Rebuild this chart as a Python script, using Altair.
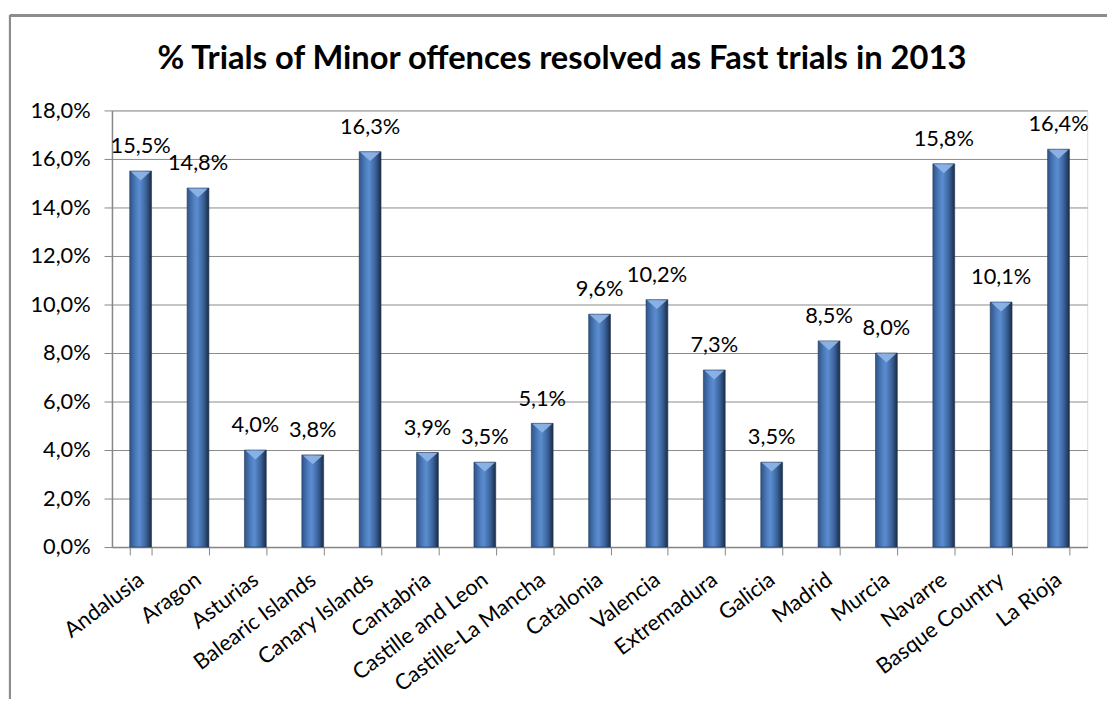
import altair as alt
import pandas as pd

regions = ["Andalusia", "Aragon", "Asturias", "Balearic Islands", "Canary Islands",
           "Cantabria", "Castille and Leon", "Castille-La Mancha", "Catalonia", "Valencia",
           "Extremadura", "Galicia", "Madrid", "Murcia", "Navarre", "Basque Country", "La Rioja"]
values = [15.5, 14.8, 4.0, 3.8, 16.3, 3.9, 3.5, 5.1, 9.6, 10.2, 7.3, 3.5, 8.5, 8.0, 15.8, 10.1, 16.4]
y_ticks = [0, 2, 4, 6, 8, 10, 12, 14, 16, 18]

df = pd.DataFrame({"region": regions, "value": values})

FONT = "Lato"
W, H = 985, 441

y_scale = alt.Scale(domain=[0, 18], nice=False)

grad = alt.Gradient(
    gradient="linear", x1=0, x2=1, y1=0, y2=0,
    stops=[alt.GradientStop(offset=0.0, color="#2f5489"),
           alt.GradientStop(offset=0.3, color="#4f7fc0"),
           alt.GradientStop(offset=0.45, color="#5b8dd0"),
           alt.GradientStop(offset=0.75, color="#3a629a"),
           alt.GradientStop(offset=1.0, color="#1b2c45")])

bars = alt.Chart(df).mark_bar(color=grad, stroke="#1f3556", strokeWidth=0.6).encode(
    x=alt.X("region:N", sort=regions, title=None,
            scale=alt.Scale(paddingInner=0.62, paddingOuter=0.31),
            axis=alt.Axis(labelAngle=-37, labelAlign="right", labelBaseline="middle",
                          labelFont=FONT, labelFontSize=22, labelColor="#000000",
                          labelPadding=22, labelLimit=400, tickBand="extent", tickSize=8,
                          tickColor="#868686", domainColor="#868686", domainWidth=1.5,
                          labelOverlap=False)),
    y=alt.Y("value:Q", scale=y_scale, title=None,
            axis=alt.Axis(values=y_ticks, grid=True, gridColor="#8a8a8a", gridWidth=1,
                          labelExpr="replace(format(datum.value, '.1f'), '.', ',') + '%'",
                          labelFont=FONT, labelFontSize=22, labelColor="#000000",
                          labelPadding=14, tickSize=8, tickColor="#868686",
                          domainColor="#868686", domainWidth=1.5)),
)

caps = alt.Chart(df).mark_point(shape="M -1 -0.45 L 1 -0.45 L 0 0.45 Z", filled=True,
                                 color="#8db3e6", opacity=0.95, size=400, yOffset=5,
                                 strokeWidth=0).encode(
    x=alt.X("region:N", sort=regions),
    y=alt.Y("value:Q", scale=y_scale),
)

labels = alt.Chart(df).transform_calculate(
    lab="replace(format(datum.value, '.1f'), '.', ',') + '%'"
).mark_text(font=FONT, fontSize=22, color="#000000", baseline="alphabetic", dy=-18).encode(
    x=alt.X("region:N", sort=regions),
    y=alt.Y("value:Q", scale=y_scale),
    text="lab:N",
)

border_left = alt.Chart(df).mark_rule(color="#8c8c8c", strokeWidth=2).encode(
    x=alt.value(-103), y=alt.value(-96), y2=alt.value(H + 160))
border_top = alt.Chart(df).mark_rule(color="#8c8c8c", strokeWidth=2).encode(
    x=alt.value(-103), x2=alt.value(W + 40), y=alt.value(-96))

chart = alt.layer(bars, caps, labels, border_left, border_top).properties(
    width=W, height=H,
    autosize=alt.AutoSizeParams(type="none"),
    padding={"left": 105, "top": 100, "right": 20, "bottom": 150},
    title=alt.TitleParams("% Trials of Minor offences resolved as Fast trials in 2013",
                          font=FONT, fontSize=33, fontWeight="bold", color="#000000",
                          dx=-38, offset=0, dy=62),
).configure_view(fill="#dbe5f1", stroke=None).configure(background="white")

chart.save("out.html", embed_options={"renderer": "svg", "actions": False})
